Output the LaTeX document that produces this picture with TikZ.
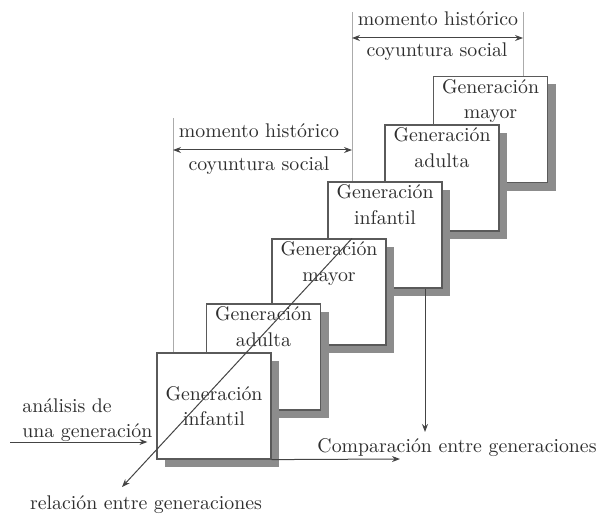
\documentclass[tikz,border=0pt]{standalone}
\usetikzlibrary{arrows.meta,shadows}
\definecolor{boxline}{HTML}{5A5A5A}
\definecolor{shadowc}{HTML}{8C8C8C}
\definecolor{guidec}{HTML}{ABABAB}
\definecolor{arrowc}{HTML}{444444}
\definecolor{textc}{HTML}{2E2E2E}

\begin{document}
\begin{tikzpicture}[x=0.5pt, y=-0.5pt,
  font=\fontsize{9.9}{12.75}\selectfont, text=textc,
  genbox/.style={draw=boxline, line width=0.6pt, fill=white,
    minimum width=57pt, minimum height=53pt, inner sep=0pt, align=center,
    drop shadow={shadow xshift=4pt, shadow yshift=-4pt, fill=shadowc, opacity=1}},
  boxtext/.style={anchor=north, align=center, inner sep=1.5pt},
  guide/.style={guidec, line width=0.5pt},
  arr/.style={arrowc, line width=0.5pt, -{Stealth[length=4pt,width=3pt]}},
  dblarr/.style={arrowc, line width=0.5pt, {Stealth[length=4pt,width=3pt]}-{Stealth[length=4pt,width=3pt]}},
  lbl/.style={inner sep=0pt}]
  \useasboundingbox (0,0) rectangle (598,513);

  % staircase of generations, back to front
  \node[genbox] (may2) at (490.5,129.5) {};
  \node[boxtext] (may2t) at (may2.north) {Generación\\mayor};
  \node[genbox] (adu2) at (442,178) {};
  \node[boxtext] (adu2t) at (adu2.north) {Generación\\adulta};
  \node[genbox] (inf2) at (385,235) {};
  \node[boxtext] (inf2t) at (inf2.north) {Generación\\infantil};
  \node[genbox] (may1) at (329,292) {};
  \node[boxtext] (may1t) at (may1.north) {Generación\\mayor};
  \node[genbox] (adu1) at (263.5,357) {};
  \node[boxtext] (adu1t) at (adu1.north) {Generación\\adulta};
  \node[genbox] (inf1) at (214,406) {Generación\\infantil};

  % guide lines and brackets
  \coordinate (g1) at (173,118);
  \coordinate (g2) at (352,12);
  \coordinate (g3) at (523,12);
  \draw[guide] (g1) -- (g1 |- inf1.north);
  \draw[guide] (g2) -- (g2 |- inf2.north);
  \draw[guide] (g3) -- (g3 |- may2.north);
  \coordinate (b1l) at (173,150);
  \coordinate (b1r) at (352,150);
  \coordinate (b2l) at (352,38);
  \coordinate (b2r) at (523,38);
  \draw[dblarr] (b1l) -- (b1r);
  \draw[dblarr] (b2l) -- (b2r);
  \node[lbl, anchor=base] (mh1) at (259,138) {momento histórico};
  \node[lbl, anchor=base] (cs1) at (259,170) {coyuntura social};
  \node[lbl, anchor=base] (mh2) at (438,26) {momento histórico};
  \node[lbl, anchor=base] (cs2) at (437,57) {coyuntura social};

  % one generation
  \node[lbl, anchor=base west] (ana1) at (22,412) {análisis de};
  \node[lbl, anchor=base west] (ana2) at (22,437) {una generación};
  \coordinate (anapt) at (10,442);
  \draw[arr, shorten >=4.5pt] (anapt) -- (inf1.west |- anapt);

  % comparison
  \node[lbl, anchor=base] (comp) at (457,452) {Comparación entre generaciones};
  \coordinate (cmpt) at (425,432);
  \draw[arr] (cmpt |- inf2.south) -- (cmpt);
  \coordinate (botpt) at (400,459);
  \draw[arr] (inf1.south east) -- (botpt);

  % relation
  \node[lbl, anchor=base] (rel) at (146,509) {relación entre generaciones};
  \coordinate (relpt) at (122,487);
  \draw[arr] ([xshift=11.5pt]may1.north) -- (relpt);
\end{tikzpicture}
\end{document}
